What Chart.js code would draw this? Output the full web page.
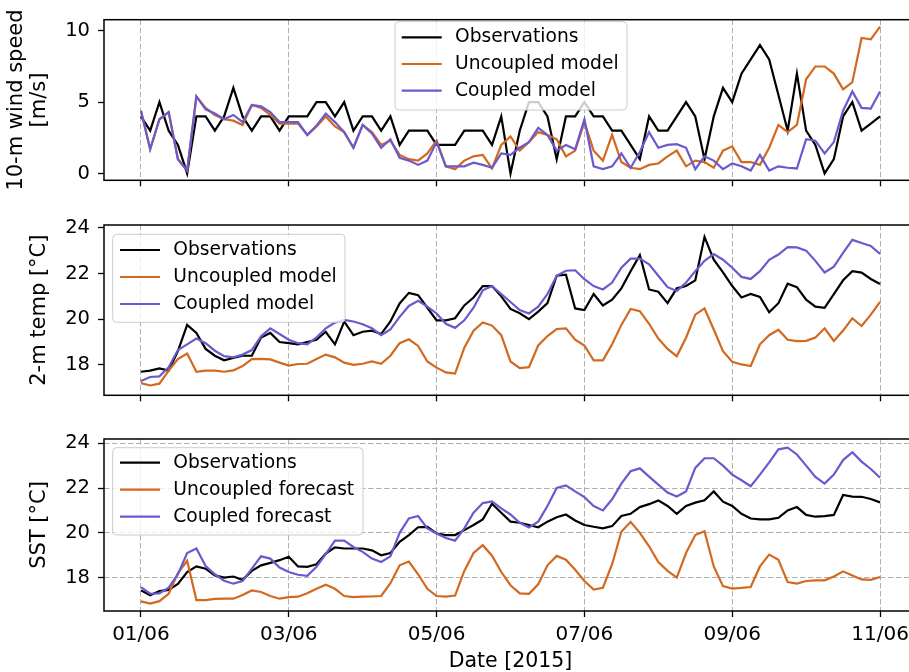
<!DOCTYPE html>
<html>
<head>
<meta charset="utf-8">
<script src="https://cdn.jsdelivr.net/npm/chart.js@4.4.1/dist/chart.umd.min.js"></script>
<style>
  html, body { margin: 0; padding: 0; background: #ffffff; overflow: hidden; width: 909px; height: 672px; }
  canvas { position: absolute; left: 0; }
</style>
</head>
<body>
<canvas id="wind" width="930" height="200" style="top:0px"></canvas>
<canvas id="temp" width="930" height="215" style="top:200px"></canvas>
<canvas id="sst" width="930" height="265" style="top:415px"></canvas>
<script>
// Samples are 3-hourly, starting 01/06/2015 00:00 (x axis in days).
const stepHours = 3;

const dateTicks = [0, 2, 4, 6, 8, 10];
const dateLabels = ['01/06', '03/06', '05/06', '07/06', '09/06', '11/06'];
const windTicks = [0, 5, 10];
const tempTicks = [18, 20, 22, 24];
const sstTicks = [18, 20, 22, 24];

const modelLabels = ['Observations', 'Uncoupled model', 'Coupled model'];
const forecastLabels = ['Observations', 'Uncoupled forecast', 'Coupled forecast'];

// 10-m wind speed [m/s]
const windObs = [4,3,5,3,2,0,4,4,3,4,6,4,3,4,4,3,4,
  4,4,5,5,4,5,3,4,4,3,
  4,2,3,3,3,2,2,2,3,3,3,2,4,0,3,5,5,4,1,4,4,5,4,4,3,3,
  2,1,4,3,3,4,5,4,1,4,6,5,7,8,9,8,5.5,3,7,3,2,0,1,4,5,3,3.5,4];
const windUncoupled = [4.4,1.7,3.8,4.3,1.0,0.2,5.4,4.6,4.1,3.8,3.7,3.4,4.8,4.6,4.1,3.5,3.5,3.5,2.7,3.3,4.0,3.3,2.9,1.8,3.4,2.9,2.0,
  2.3,1.3,1.0,0.9,1.4,2.3,0.5,0.3,0.9,1.2,1.3,0.35,2.0,2.6,1.6,2.2,2.9,2.7,2.4,1.2,1.6,3.6,1.6,0.9,2.7,0.8,
  0.4,0.3,0.6,0.7,1.2,1.6,0.5,0.9,0.8,0.4,1.6,1.9,0.8,0.8,0.6,1.8,3.4,2.9,3.4,6.6,7.5,7.5,7.0,5.9,6.4,9.5,9.4,10.3];
const windCoupled = [4.4,1.7,3.8,4.3,1.0,0.2,5.4,4.5,4.2,3.8,4.1,3.6,4.8,4.7,4.3,3.6,3.6,3.6,2.7,3.35,4.2,3.6,2.9,1.8,3.4,2.8,1.8,
  2.4,1.1,0.9,0.6,0.9,2.2,0.5,0.5,0.5,0.75,0.6,0.4,1.4,1.3,1.8,2.2,3.2,2.7,1.6,2.0,1.7,3.8,0.5,0.3,0.5,1.4,
  0.4,1.5,2.9,1.8,2.0,2.05,1.8,0.3,1.2,0.9,0.3,0.7,0.5,0.2,1.3,0.2,0.5,0.4,0.35,2.4,2.3,1.4,2.2,4.4,5.75,4.6,4.55,5.75];

// 2-m air temperature [°C]
const tempObs = [17.7,17.75,17.85,17.75,18.6,19.75,19.4,18.7,18.4,18.2,18.3,18.4,18.4,19.2,19.4,19.0,18.95,18.9,19.0,19.1,19.45,18.9,19.9,19.3,19.45,19.5,19.35,
  19.9,20.69,21.15,21.05,20.5,19.95,19.95,20.04,20.6,20.95,21.45,21.45,21.0,20.45,20.26,20.0,20.33,20.7,21.9,21.95,20.47,20.4,21.1,20.6,20.85,21.35,
  22.1,22.8,21.3,21.2,20.7,21.35,21.45,21.7,23.6,22.6,22.05,21.45,20.95,21.1,20.97,20.3,20.7,21.55,21.4,20.85,20.55,20.5,21.1,21.7,22.1,22.04,21.76,21.54];
const tempUncoupled = [17.2,17.1,17.18,17.75,18.25,18.5,17.7,17.75,17.75,17.7,17.76,17.95,18.25,18.26,18.24,18.1,17.97,18.04,18.05,18.26,18.45,18.33,18.1,18.0,18.05,18.15,18.05,
  18.4,18.95,19.12,18.83,18.15,17.88,17.67,17.62,18.75,19.5,19.86,19.72,19.3,18.15,17.86,17.9,18.85,19.26,19.57,19.6,19.1,18.85,18.2,18.2,18.9,19.75,
  20.45,20.35,19.8,19.15,18.7,18.38,19.19,20.2,20.47,19.55,18.6,18.14,18.02,17.95,18.9,19.3,19.54,19.1,19.04,19.05,19.2,19.6,19.05,19.5,20.04,19.7,20.2,20.76];
const tempCoupled = [17.3,17.47,17.5,17.9,18.65,18.9,19.15,18.95,18.62,18.38,18.33,18.45,18.65,19.25,19.6,19.35,19.1,18.95,18.9,19.2,19.6,19.85,19.97,19.9,19.78,19.6,19.3,
  19.55,20.1,20.58,20.8,20.55,20.25,19.8,19.62,19.95,20.5,21.26,21.45,21.1,20.75,20.4,20.25,20.55,21.1,21.9,22.12,22.14,21.75,21.45,21.3,21.6,22.25,
  22.65,22.65,22.4,21.9,21.4,21.23,21.6,22.1,22.55,22.85,22.6,22.25,21.85,21.76,22.1,22.6,22.83,23.15,23.14,23.0,22.55,22.04,22.3,22.9,23.47,23.33,23.2,22.86];

// Sea surface temperature [°C]
const sstObs = [17.43,17.21,17.4,17.45,17.72,18.25,18.5,18.4,18.1,18.0,18.05,17.9,18.3,18.55,18.66,18.78,18.93,18.5,18.48,18.6,19.07,19.35,19.3,19.3,19.3,19.22,19.0,
  19.1,19.6,19.9,20.25,20.27,19.97,19.9,19.9,20.12,20.35,20.6,21.3,20.9,20.5,20.45,20.35,20.25,20.5,20.7,20.82,20.55,20.35,20.27,20.2,20.3,20.75,
  20.85,21.15,21.28,21.45,21.2,20.85,21.2,21.35,21.45,21.85,21.39,21.2,20.85,20.64,20.6,20.6,20.67,21.0,21.15,20.8,20.72,20.75,20.8,21.69,21.62,21.61,21.51,21.36];
const sstUncoupled = [16.94,16.84,16.95,17.28,18.2,18.75,17.0,17.0,17.05,17.06,17.06,17.22,17.43,17.36,17.18,17.06,17.13,17.15,17.3,17.5,17.68,17.5,17.18,17.13,17.15,17.16,17.18,
  17.75,18.55,18.72,18.15,17.5,17.18,17.15,17.2,18.3,19.1,19.45,18.98,18.25,17.66,17.3,17.28,17.7,18.55,18.97,18.8,18.35,17.85,17.47,17.55,18.6,20.05,
  20.49,20.0,19.4,18.7,18.3,18.0,19.1,19.9,20.07,18.5,17.62,17.51,17.54,17.58,18.5,19.03,18.8,17.8,17.73,17.85,17.88,17.88,18.05,18.28,18.1,17.92,17.9,18.03];
const sstCoupled = [17.58,17.28,17.3,17.55,18.15,19.1,19.3,18.52,18.15,17.86,17.73,17.85,18.4,18.95,18.85,18.45,18.25,18.13,18.08,18.48,19.05,19.65,19.65,19.37,19.15,18.85,18.7,
  18.95,20.0,20.64,20.75,20.2,19.97,19.77,19.65,20.2,20.9,21.33,21.4,21.09,20.82,20.45,20.24,20.5,21.2,22.0,22.12,21.85,21.6,21.2,21.0,21.5,22.2,
  22.75,22.88,22.51,22.15,21.8,21.62,21.85,22.9,23.33,23.33,23.0,22.6,22.35,22.08,22.6,23.15,23.73,23.8,23.5,23.0,22.5,22.2,22.6,23.25,23.6,23.18,22.85,22.46];

const COLORS = ['#000000', '#d2691e', '#6a5acd'];
const FAMILY = '"DejaVu Sans", "Noto Sans", sans-serif';
Chart.defaults.font.family = FAMILY;
Chart.defaults.color = '#000000';

function toPoints(values) {
  return values.map((v, i) => ({ x: i * stepHours / 24, y: v }));
}

// Full box around the plotting area (all four spines).
const framePlugin = {
  id: 'frame',
  afterDatasetsDraw(chart) {
    const { ctx, chartArea: a } = chart;
    ctx.save();
    ctx.strokeStyle = '#000000';
    ctx.lineWidth = 1.5;
    ctx.strokeRect(a.left, a.top, a.right - a.left, a.bottom - a.top);
    ctx.restore();
  }
};

// Framed legend placed inside the axes.
const boxLegend = {
  id: 'boxLegend',
  afterDraw(chart, args, o) {
    if (!o || !o.box) return;
    const { ctx } = chart;
    const [bx, by, bw, bh] = o.box;
    const r = 4;
    ctx.save();
    ctx.beginPath();
    ctx.moveTo(bx + r, by);
    ctx.arcTo(bx + bw, by, bx + bw, by + bh, r);
    ctx.arcTo(bx + bw, by + bh, bx, by + bh, r);
    ctx.arcTo(bx, by + bh, bx, by, r);
    ctx.arcTo(bx, by, bx + bw, by, r);
    ctx.closePath();
    ctx.fillStyle = 'rgba(255,255,255,0.8)';
    ctx.fill();
    ctx.strokeStyle = '#cccccc';
    ctx.lineWidth = 1;
    ctx.stroke();
    ctx.font = o.fontSize + 'px ' + FAMILY;
    ctx.textBaseline = 'middle';
    ctx.textAlign = 'left';
    chart.data.datasets.forEach((d, i) => {
      const y = by + o.firstRow + i * o.rowGap;
      ctx.strokeStyle = d.borderColor;
      ctx.lineWidth = d.borderWidth;
      ctx.beginPath();
      ctx.moveTo(bx + o.handleX, y);
      ctx.lineTo(bx + o.handleX + o.handleLen, y);
      ctx.stroke();
      ctx.fillStyle = '#000000';
      ctx.fillText(d.label, bx + o.textX, y);
    });
    ctx.restore();
  }
};

function makePanel(id, p) {
  return new Chart(document.getElementById(id), {
    type: 'line',
    data: {
      datasets: p.series.map((vals, i) => ({
        label: p.labels[i],
        data: toPoints(vals),
        borderColor: COLORS[i],
        backgroundColor: COLORS[i],
        borderWidth: 2.2,
        pointRadius: 0,
        tension: 0,
        fill: false,
        order: 3 - i
      }))
    },
    options: {
      responsive: false,
      animation: false,
      devicePixelRatio: 1,
      parsing: false,
      layout: { padding: { top: p.top, right: 13, bottom: 0, left: 0 } },
      plugins: {
        legend: { display: false },
        tooltip: { enabled: false },
        boxLegend: p.legend
      },
      scales: {
        x: {
          type: 'linear',
          min: -0.5,
          max: 10.5,
          afterBuildTicks: s => { s.ticks = dateTicks.map(v => ({ value: v })); },
          afterFit: s => { s.height = p.xHeight; },
          grid: {
            display: true, drawOnChartArea: true, drawTicks: true,
            color: '#b0b0b0', lineWidth: 1,
            tickLength: 6, tickColor: '#000000', tickWidth: 1.3, tickBorderDash: []
          },
          border: { display: false, dash: [5.5, 2.5] },
          ticks: {
            display: p.showDates, padding: 6, autoSkip: false, maxRotation: 0,
            color: '#000000', font: { size: 20 },
            callback: v => dateLabels[dateTicks.indexOf(v)]
          },
          title: {
            display: p.showDates, text: 'Date [2015]', color: '#000000',
            font: { size: 20.5 }, padding: { top: 0, bottom: 5.7 }
          }
        },
        y: {
          min: p.yMin,
          max: p.yMax,
          afterBuildTicks: s => { s.ticks = p.yTicks.map(v => ({ value: v })); },
          afterFit: s => { s.width = 104; },
          grid: {
            display: true, drawOnChartArea: p.yGrid, drawTicks: true,
            color: '#b0b0b0', lineWidth: 1,
            tickLength: 6, tickColor: '#000000', tickWidth: 1.3, tickBorderDash: []
          },
          border: { display: false, dash: [5.5, 2.5] },
          ticks: { padding: 8, color: '#000000', font: { size: 19.5 } },
          title: {
            display: true, text: p.yTitle, color: '#000000',
            font: { size: 21, lineHeight: 1.12 }, padding: { top: p.titlePad, bottom: 0 }
          }
        }
      }
    },
    plugins: [framePlugin, boxLegend]
  });
}

makePanel('wind', {
  series: [windObs, windUncoupled, windCoupled],
  labels: modelLabels,
  top: 13, xHeight: 15, showDates: false,
  yMin: -0.48, yMax: 10.78, yTicks: windTicks, yGrid: false,
  yTitle: ['10-m wind speed', '[m/s]'], titlePad: 4.7,
  legend: { box: [395, 21.7, 232, 88.3], firstRow: 15.6, rowGap: 26.7, handleX: 6.7, handleLen: 40, textX: 60, fontSize: 18.7 }
});

makePanel('temp', {
  series: [tempObs, tempUncoupled, tempCoupled],
  labels: modelLabels,
  top: 25, xHeight: 17, showDates: false,
  yMin: 16.67, yMax: 24.12, yTicks: tempTicks, yGrid: false,
  yTitle: '2-m temp [°C]', titlePad: 28.2,
  legend: { box: [112.7, 34.3, 232.3, 88], firstRow: 15.7, rowGap: 27, handleX: 7.3, handleLen: 40, textX: 60.5, fontSize: 18.7 }
});

makePanel('sst', {
  series: [sstObs, sstUncoupled, sstCoupled],
  labels: forecastLabels,
  top: 24, xHeight: 69, showDates: true,
  yMin: 16.51, yMax: 24.19, yTicks: sstTicks, yGrid: true,
  yTitle: 'SST [°C]', titlePad: 28.2,
  legend: { box: [112.7, 32.7, 250.3, 87.3], firstRow: 15, rowGap: 27, handleX: 7.3, handleLen: 40, textX: 60.5, fontSize: 18.7 }
});
</script>
</body>
</html>
